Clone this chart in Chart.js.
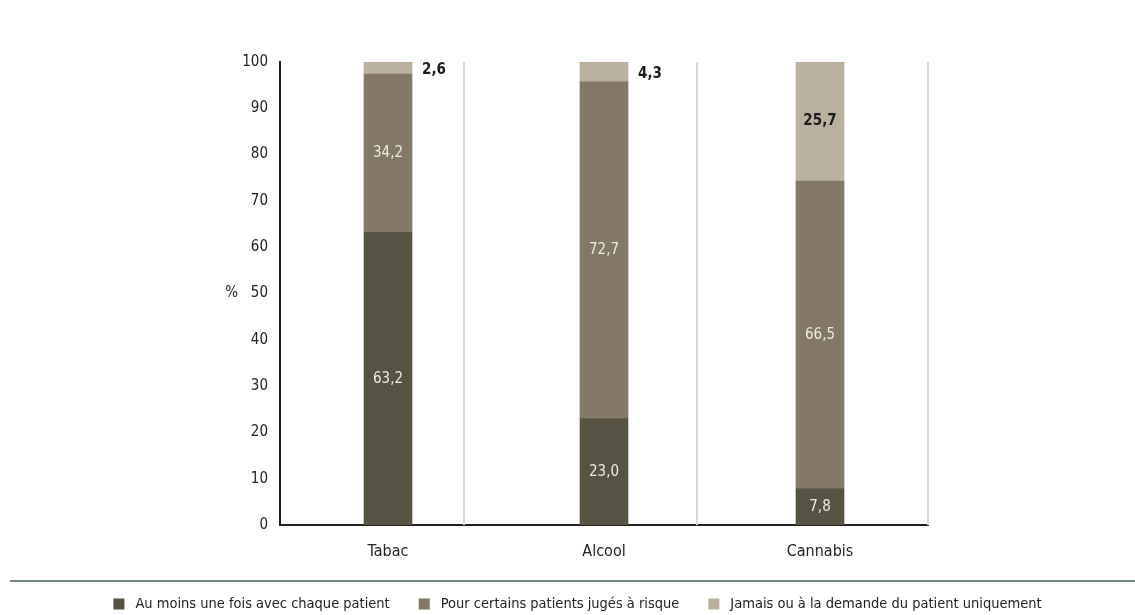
<!DOCTYPE html>
<html>
<head>
<meta charset="utf-8">
<script src="https://cdn.jsdelivr.net/npm/chart.js@4"></script>
<style>
  html, body { margin: 0; padding: 0; background: #fff; }
  #wrap { width: 1135px; height: 615px; position: relative; }
</style>
</head>
<body>
<div id="wrap"><canvas id="chart"></canvas></div>
<script>
// Data
const categories = ['Tabac', 'Alcool', 'Cannabis'];
const seriesNames = ['Au moins une fois avec chaque patient', 'Pour certains patients jugés à risque', 'Jamais ou à la demande du patient uniquement'];
const chaque = [63.2, 23.0, 7.8];
const risque = [34.2, 72.7, 66.5];
const jamais = [2.6, 4.3, 25.7];
const yTicks = [0, 10, 20, 30, 40, 50, 60, 70, 80, 90, 100];

const colors = ['#565342', '#837765', '#bab09e'];
const FONT = '"Liberation Sans Narrow", "DejaVu Sans Condensed", "Roboto", sans-serif';

const fmt = v => v.toFixed(1).replace('.', ',');

// separators, right border, green rule, legend and value labels
const decor = {
  id: 'decor',
  beforeDatasetsDraw(chart) {
    const { ctx, chartArea, scales: { x } } = chart;
    ctx.save();
    ctx.strokeStyle = '#d9d9d9';
    ctx.lineWidth = 2;
    [0.35, 1.43].forEach(v => {
      const px = Math.round(x.getPixelForValue(v));
      ctx.beginPath(); ctx.moveTo(px, chartArea.top); ctx.lineTo(px, chartArea.bottom); ctx.stroke();
    });
    ctx.beginPath(); ctx.moveTo(chartArea.right, chartArea.top); ctx.lineTo(chartArea.right, chartArea.bottom); ctx.stroke();
    ctx.restore();
  },
  afterDraw(chart) {
    const { ctx } = chart;
    ctx.save();
    // rule above legend
    ctx.strokeStyle = '#6f8c7f';
    ctx.lineWidth = 2;
    ctx.beginPath(); ctx.moveTo(10, 581); ctx.lineTo(chart.width, 581); ctx.stroke();

    // legend, one row, centred
    ctx.font = '14.5px ' + FONT;
    ctx.textBaseline = 'middle';
    ctx.textAlign = 'left';
    const box = 11, gapBox = 11, gapItem = 29, ly = 604;
    const widths = chart.data.datasets.map(ds => box + gapBox + ctx.measureText(ds.label).width);
    const total = widths.reduce((a, b) => a + b, 0) + gapItem * (widths.length - 1);
    let lx = (chart.width - total) / 2 + 10;
    chart.data.datasets.forEach((ds, di) => {
      ctx.fillStyle = ds.backgroundColor;
      ctx.fillRect(lx, ly - box / 2, box, box);
      ctx.fillStyle = '#222';
      ctx.fillText(ds.label, lx + box + gapBox, ly);
      lx += widths[di] + gapItem;
    });

    // value labels
    chart.data.datasets.forEach((ds, di) => {
      const meta = chart.getDatasetMeta(di);
      meta.data.forEach((bar, i) => {
        const v = ds.data[i];
        const top = Math.min(bar.y, bar.base), bot = Math.max(bar.y, bar.base);
        const cy = (top + bot) / 2;
        if (di === 2) {
          ctx.font = '600 15px ' + FONT;
          ctx.fillStyle = '#1c1c1c';
        } else {
          ctx.font = '15px ' + FONT;
          ctx.fillStyle = '#eeeae2';
        }
        if (di === 2 && v < 10) {
          ctx.textAlign = 'left';
          ctx.fillText(fmt(v), bar.x + bar.width / 2 + 10, cy + 2);
        } else {
          ctx.textAlign = 'center';
          ctx.fillText(fmt(v), bar.x, cy);
        }
      });
    });
    ctx.restore();
  }
};

new Chart(document.getElementById('chart'), {
  type: 'bar',
  data: {
    labels: categories,
    datasets: [
      { label: seriesNames[0], data: chaque, backgroundColor: colors[0] },
      { label: seriesNames[1], data: risque, backgroundColor: colors[1] },
      { label: seriesNames[2], data: jamais, backgroundColor: colors[2] },
    ]
  },
  options: {
    responsive: true, maintainAspectRatio: false, animation: false,
    layout: { padding: { top: 62, right: 207, left: 0, bottom: 26 } },
    datasets: { bar: { barThickness: 48, borderWidth: 0 } },
    plugins: {
      tooltip: { enabled: false },
      legend: { display: false }
    },
    scales: {
      x: {
        stacked: true,
        grid: { display: false, drawTicks: false },
        border: { color: '#222', width: 2 },
        ticks: { font: { family: FONT, size: 16 }, color: '#222', padding: 17 },
        afterFit(s) { s.height = 64; }
      },
      y: {
        stacked: true, min: 0, max: 100,
        afterBuildTicks(s) { s.ticks = yTicks.map(v => ({ value: v })); },
        grid: { display: false, drawTicks: true, tickLength: 6, tickColor: '#222' },
        border: { color: '#222', width: 2 },
        ticks: {
          font: { family: FONT, size: 15, weight: '500' }, color: '#222', padding: 6,
          callback: v => v === 50 ? '%   50' : String(v)
        },
        afterFit(s) { s.width = 280; }
      }
    }
  },
  plugins: [decor]
});
</script>
</body>
</html>
